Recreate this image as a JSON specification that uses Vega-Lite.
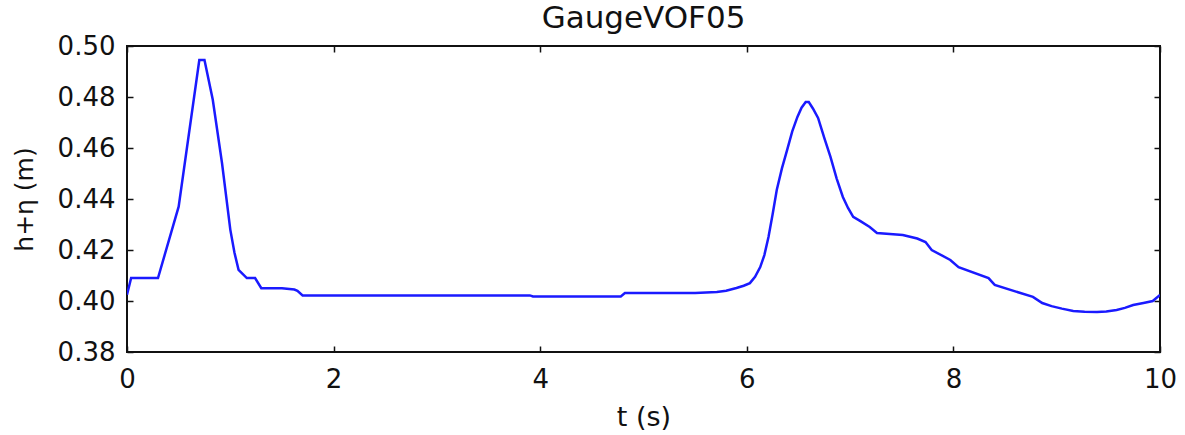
{
  "$schema": "https://vega.github.io/schema/vega-lite/v6.json",
  "autosize": {"type": "none"},
  "width": 1033,
  "height": 306,
  "padding": {"left": 127, "top": 46, "right": 25, "bottom": 83},
  "background": "white",
  "title": {"text": "GaugeVOF05", "font": "DejaVu Sans", "fontSize": 31, "fontWeight": "normal", "color": "#111111", "offset": -2},
  "data": {"values": [
    {"t": 0, "v": 0.4025}, {"t": 0.04, "v": 0.409}, {"t": 0.30, "v": 0.409}, {"t": 0.50, "v": 0.437},
    {"t": 0.70, "v": 0.4945}, {"t": 0.75, "v": 0.4945}, {"t": 0.83, "v": 0.479}, {"t": 0.92, "v": 0.454},
    {"t": 1.00, "v": 0.428}, {"t": 1.04, "v": 0.419}, {"t": 1.08, "v": 0.4122}, {"t": 1.16, "v": 0.409}, {"t": 1.24, "v": 0.409},
    {"t": 1.30, "v": 0.405}, {"t": 1.50, "v": 0.405}, {"t": 1.62, "v": 0.4045}, {"t": 1.65, "v": 0.404},
    {"t": 1.70, "v": 0.4022}, {"t": 3.90, "v": 0.4022}, {"t": 3.93, "v": 0.4018}, {"t": 4.78, "v": 0.4018},
    {"t": 4.82, "v": 0.4031}, {"t": 5.50, "v": 0.4031}, {"t": 5.71, "v": 0.4035}, {"t": 5.80, "v": 0.404},
    {"t": 5.90, "v": 0.4051}, {"t": 5.97, "v": 0.406}, {"t": 6.03, "v": 0.407}, {"t": 6.08, "v": 0.4095},
    {"t": 6.13, "v": 0.4133}, {"t": 6.17, "v": 0.418}, {"t": 6.21, "v": 0.4251}, {"t": 6.25, "v": 0.434},
    {"t": 6.29, "v": 0.4435}, {"t": 6.34, "v": 0.452}, {"t": 6.39, "v": 0.4592}, {"t": 6.44, "v": 0.4665},
    {"t": 6.49, "v": 0.4722}, {"t": 6.53, "v": 0.4758}, {"t": 6.57, "v": 0.478}, {"t": 6.60, "v": 0.478},
    {"t": 6.64, "v": 0.4755}, {"t": 6.69, "v": 0.4718}, {"t": 6.75, "v": 0.464}, {"t": 6.81, "v": 0.4565},
    {"t": 6.87, "v": 0.448}, {"t": 6.93, "v": 0.4408}, {"t": 6.98, "v": 0.4365}, {"t": 7.03, "v": 0.433},
    {"t": 7.10, "v": 0.4313}, {"t": 7.19, "v": 0.429}, {"t": 7.26, "v": 0.4267}, {"t": 7.51, "v": 0.4259},
    {"t": 7.65, "v": 0.4245}, {"t": 7.73, "v": 0.4231}, {"t": 7.79, "v": 0.42}, {"t": 7.97, "v": 0.4161},
    {"t": 8.05, "v": 0.4133}, {"t": 8.34, "v": 0.409}, {"t": 8.40, "v": 0.4063}, {"t": 8.77, "v": 0.4016},
    {"t": 8.86, "v": 0.3992}, {"t": 8.95, "v": 0.398}, {"t": 9.05, "v": 0.397}, {"t": 9.16, "v": 0.3961},
    {"t": 9.27, "v": 0.3958}, {"t": 9.39, "v": 0.3957}, {"t": 9.48, "v": 0.3959}, {"t": 9.58, "v": 0.3965},
    {"t": 9.66, "v": 0.3973}, {"t": 9.74, "v": 0.3984}, {"t": 9.84, "v": 0.3992}, {"t": 9.93, "v": 0.40},
    {"t": 10.0, "v": 0.4024}
  ]},
  "layer": [
    {
      "mark": {"type": "line", "color": "#1a1aff", "strokeWidth": 2.5, "clip": true},
      "encoding": {
        "x": {"field": "t", "type": "quantitative", "scale": {"domain": [0, 10], "nice": false, "zero": false},
          "axis": {"title": "t (s)", "values": [0, 2, 4, 6, 8, 10], "format": "d", "grid": false, "domain": false,
            "tickSize": -6, "labelPadding": 20, "titlePadding": 12, "titleFontSize": 27}},
        "y": {"field": "v", "type": "quantitative", "scale": {"domain": [0.38, 0.5], "nice": false, "zero": false},
          "axis": {"title": "h+η (m)", "values": [0.38, 0.40, 0.42, 0.44, 0.46, 0.48, 0.50], "format": ".2f", "grid": false, "domain": false,
            "tickSize": -6, "labelPadding": 18, "titlePadding": 20}}
      }
    },
    {
      "mark": {"type": "line", "opacity": 0},
      "encoding": {
        "x": {"field": "t", "type": "quantitative", "scale": {"domain": [0, 10], "nice": false, "zero": false},
          "axis": {"orient": "top", "title": null, "labels": false, "values": [0, 2, 4, 6, 8, 10], "grid": false, "domain": false, "tickSize": -6}},
        "y": {"field": "v", "type": "quantitative", "scale": {"domain": [0.38, 0.5], "nice": false, "zero": false},
          "axis": {"orient": "right", "title": null, "labels": false, "values": [0.38, 0.40, 0.42, 0.44, 0.46, 0.48, 0.50], "grid": false, "domain": false, "tickSize": -6}}
      }
    }
  ],
  "resolve": {"scale": {"x": "independent", "y": "independent"}, "axis": {"x": "independent", "y": "independent"}},
  "config": {
    "view": {"stroke": "#111111", "strokeWidth": 2},
    "axis": {
      "labelFont": "DejaVu Sans", "labelFontSize": 26, "labelColor": "#111111",
      "titleFont": "DejaVu Sans", "titleFontSize": 25, "titleFontWeight": "normal", "titleColor": "#111111",
      "tickColor": "#111111", "tickWidth": 1.5, "labelFlush": false, "labelOverlap": false
    }
  }
}
